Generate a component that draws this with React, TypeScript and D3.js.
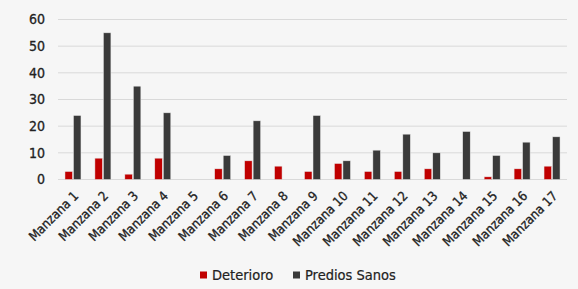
import React from 'react'
import * as d3 from 'd3'

const categories = ['Manzana 1', 'Manzana 2', 'Manzana 3', 'Manzana 4', 'Manzana 5', 'Manzana 6', 'Manzana 7', 'Manzana 8', 'Manzana 9', 'Manzana 10', 'Manzana 11', 'Manzana 12', 'Manzana 13', 'Manzana 14', 'Manzana 15', 'Manzana 16', 'Manzana 17']
const deterioro = [3, 8, 2, 8, 0, 4, 7, 5, 3, 6, 3, 3, 4, 0, 1, 4, 5]
const prediosSanos = [24, 55, 35, 25, 0, 9, 22, 0, 24, 7, 11, 17, 10, 18, 9, 14, 16]
const yTicks = [0, 10, 20, 30, 40, 50, 60]
const seriesNames = ['Deterioro', 'Predios Sanos']
const colors = ['#c00000', '#3a3a3a']

const W = 578, H = 289
const margin = { left: 58, right: 11, top: 19.5, bottom: 109.5 }
const font = '"DejaVu Sans Condensed", "DejaVu Sans", sans-serif'

export default function App() {
  const x = d3.scaleBand().domain(categories).range([margin.left, W - margin.right])
  const y = d3.scaleLinear().domain([0, 60]).range([H - margin.bottom, margin.top])
  const x1 = d3.scaleBand().domain(seriesNames).range([0, 16]).paddingInner(0.12)
  const groupOff = (x.bandwidth() - 16) / 2
  const series = [deterioro, prediosSanos]

  return (
    <svg width={W} height={H} style={{ position: 'absolute', left: 0, top: 0, background: '#f6f6f6' }}>
      <rect width={W} height={H} fill="#f6f6f6" />
      {yTicks.map(t => (
        <g key={t}>
          <line x1={margin.left} x2={W - margin.right} y1={y(t)} y2={y(t)} stroke="#d9d9d9" strokeWidth={1} />
          <text x={45} y={y(t)} dy="0.35em" textAnchor="end" fontFamily={font} fontSize={14} fill="#222" stroke="#222" strokeWidth={0.3}>{t}</text>
        </g>
      ))}
      {series.map((vals, si) => vals.map((v, i) => {
        const bx = (x(categories[i]) as number) + groupOff + (x1(seriesNames[si]) as number)
        const h = y(0) - y(v)
        return v > 0 ? (
          <rect key={si + '-' + i} x={bx} y={y(v)} width={x1.bandwidth()} height={h} fill={colors[si]} stroke="#e8e8e8" strokeWidth={0.5} />
        ) : null
      }))}
      {categories.map(c => {
        const cx = (x(c) as number) + x.bandwidth() / 2 + 3
        const cy = y(0) + 14
        return (
          <text key={c} transform={`translate(${cx},${cy}) rotate(-45)`} textAnchor="end" dy="0.35em" fontFamily={font} fontSize={13} fill="#222" stroke="#222" strokeWidth={0.3}>{c}</text>
        )
      })}
      {seriesNames.map((s, i) => {
        const lx = i === 0 ? 200 : 293
        return (
          <g key={s}>
            <rect x={lx} y={271.5} width={7} height={7} fill={colors[i]} />
            <text x={lx + 12} y={275} dy="0.35em" fontFamily={font} fontSize={14.5} fill="#222" stroke="#222" strokeWidth={0.2}>{s}</text>
          </g>
        )
      })}
    </svg>
  )
}
